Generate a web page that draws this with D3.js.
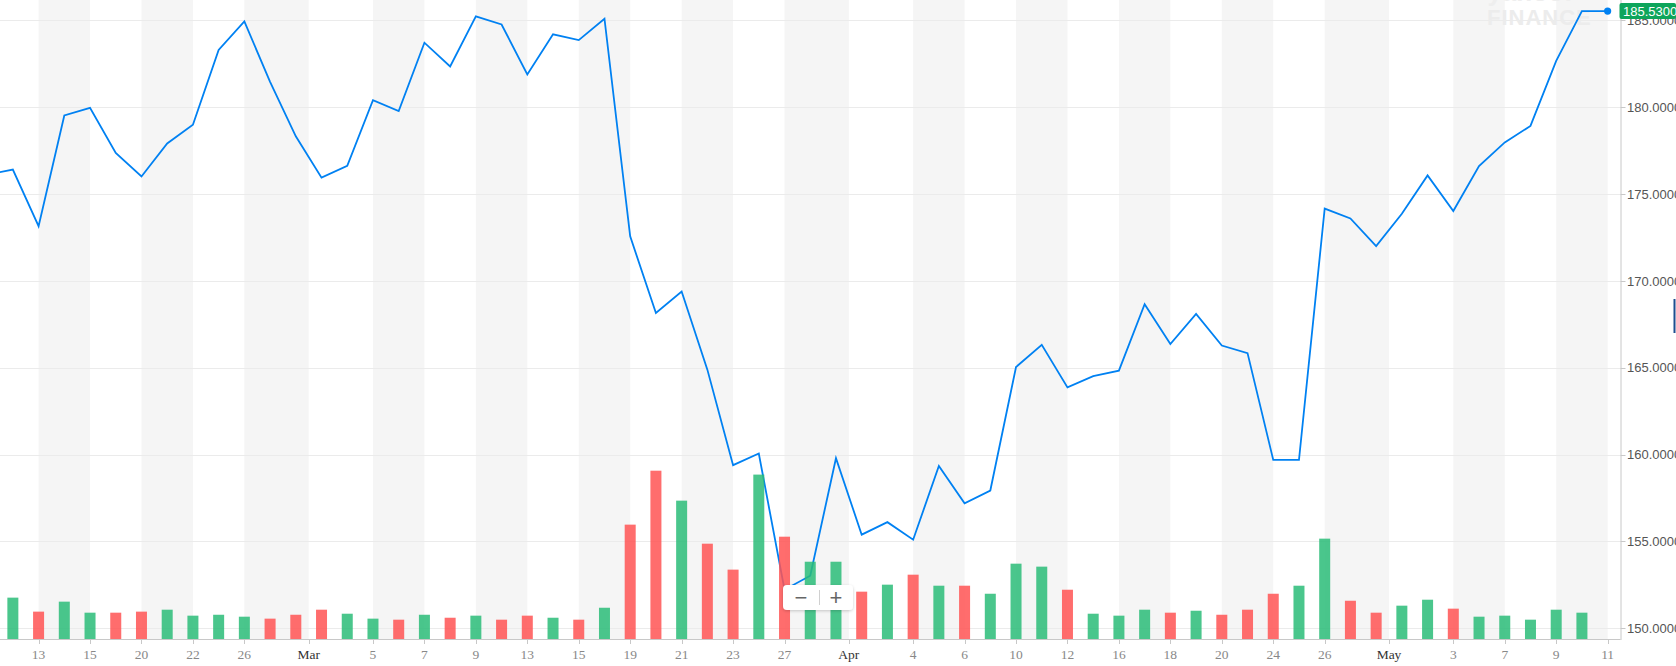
<!DOCTYPE html>
<html>
<head>
<meta charset="utf-8">
<script src="https://cdn.jsdelivr.net/npm/d3@7"></script>
<style>
  body { margin: 0; background: #fff; overflow: hidden; }
  svg { display: block; }
</style>
</head>
<body>
<div id="chart"></div>
<script>
// Données (séance du 9 fév. au 11 mai 2018)
const dates = [
  "02-09", "02-12", "02-13", "02-14", "02-15", "02-16", "02-20", "02-21", "02-22", "02-23", "02-26", "02-27", "02-28",
  "03-01", "03-02", "03-05", "03-06", "03-07", "03-08", "03-09", "03-12", "03-13", "03-14", "03-15", "03-16",
  "03-19", "03-20", "03-21", "03-22", "03-23", "03-26", "03-27", "03-28", "03-29",
  "04-02", "04-03", "04-04", "04-05", "04-06", "04-09", "04-10", "04-11", "04-12", "04-13",
  "04-16", "04-17", "04-18", "04-19", "04-20", "04-23", "04-24", "04-25", "04-26", "04-27", "04-30",
  "05-01", "05-02", "05-03", "05-04", "05-07", "05-08", "05-09", "05-10", "05-11"
];
const closes = [
  176.11, 176.41, 173.15, 179.52, 179.96, 177.36, 176.01, 177.91, 178.99, 183.29, 184.93, 181.46, 178.32,
  175.94, 176.62, 180.40, 179.78, 183.71, 182.34, 185.23, 184.76, 181.88, 184.19, 183.86, 185.09,
  172.56, 168.15, 169.39, 164.89, 159.39, 160.06, 152.22, 153.03, 159.79,
  155.39, 156.11, 155.10, 159.34, 157.20, 157.93, 165.04, 166.32, 163.87, 164.52,
  164.83, 168.66, 166.36, 168.10, 166.28, 165.84, 159.69, 159.69, 174.16, 173.59, 172.00,
  173.86, 176.07, 174.02, 176.61, 177.97, 178.92, 182.66, 185.53, 185.53
];
// volumes en millions
const volumes = [
  null, 31.9, 21.1, 28.8, 20.3, 20.3, 21.1, 22.6, 18.0, 18.7, 17.2, 15.7, 18.7,
  22.6, 19.5, 15.7, 14.9, 18.7, 16.4, 18.0, 14.9, 18.0, 16.4, 14.9, 24.1,
  88.2, 129.8, 106.7, 73.5, 53.5, 126.8, 78.9, 59.6, 59.6,
  36.5, 41.9, 49.6, 41.1, 41.1, 34.9, 58.1, 55.8, 38.0, 19.5,
  18.0, 22.6, 20.3, 21.8, 18.7, 22.6, 34.9, 41.1, 77.4, 29.5, 20.3,
  25.7, 30.3, 23.4, 17.2, 18.0, 14.9, 22.6, 20.3, null
];
const dayTicks = ["02-13", "02-15", "02-20", "02-22", "02-26", "03-05", "03-07", "03-09", "03-13", "03-15",
  "03-19", "03-21", "03-23", "03-27", "04-04", "04-06", "04-10", "04-12", "04-16", "04-18", "04-20",
  "04-24", "04-26", "05-03", "05-07", "05-09", "05-11"];
const monthLabels = ["Mar", "Apr", "May"];
const monthFirstDays = ["03-01", "04-02", "05-01"];
const priceTicks = [150, 155, 160, 165, 170, 175, 180, 185];

const W = 1676, H = 666,
    plotRight = 1620.5,
    axisY = 639,
    volHeight = 168.3,
    barWidth = 11,
    lineColor = "#0081f2",
    upColor = "#2abc78",
    downColor = "#ff5454";

const svg = d3.select("#chart").append("svg")
    .attr("width", W)
    .attr("height", H)
    .style("font-family", "'Liberation Sans', Arial, sans-serif");

const x = d3.scaleLinear()
    .domain([0.5, 63.5])
    .range([0, plotRight]);

const y = d3.scaleLinear()
    .domain([150, 185])
    .range([628.3, 20.3]);

const yVol = d3.scaleLinear()
    .domain([0, d3.max(volumes)])
    .range([axisY, axisY - volHeight]);

// ticks de l'axe des abscisses : jours + débuts de mois (entre deux séances)
let ticks = dayTicks.map(d => ({pos: dates.indexOf(d), label: String(+d.slice(3)), month: false}));
monthFirstDays.forEach((d, i) => ticks.push({pos: dates.indexOf(d) - 0.5, label: monthLabels[i], month: true}));
ticks.sort((a, b) => a.pos - b.pos);

const defs = svg.append("defs");
defs.append("clipPath").attr("id", "plot-clip")
    .append("rect").attr("x", 0).attr("y", 0).attr("width", plotRight).attr("height", axisY);
const shadow = defs.append("filter").attr("id", "shadow")
    .attr("x", "-20%").attr("y", "-30%").attr("width", "140%").attr("height", "170%");
shadow.append("feDropShadow").attr("dx", 0).attr("dy", 1).attr("stdDeviation", 1.5)
    .attr("flood-color", "#000").attr("flood-opacity", 0.2);

// bandes grises alternées
const bands = d3.range(0, ticks.length - 1, 2).map(i => [ticks[i].pos, ticks[i + 1].pos]);
svg.append("g").selectAll("rect")
    .data(bands)
    .enter().append("rect")
    .attr("x", d => x(d[0]))
    .attr("y", 0)
    .attr("width", d => x(d[1]) - x(d[0]))
    .attr("height", axisY)
    .style("fill", "#f5f5f5");

// grille horizontale
svg.append("g").selectAll("line")
    .data(priceTicks)
    .enter().append("line")
    .attr("x1", 0)
    .attr("x2", plotRight)
    .attr("y1", d => Math.round(y(d)) + 0.5)
    .attr("y2", d => Math.round(y(d)) + 0.5)
    .style("stroke", "#ebebeb")
    .style("stroke-width", 1);

// filigrane (coupé par le haut de l'image)
svg.append("text")
    .attr("x", 1530)
    .attr("y", 1)
    .attr("text-anchor", "middle")
    .style("font-size", "26px")
    .style("font-weight", "bold")
    .style("fill", "#eeeeee")
    .text("yahoo!");
svg.append("text")
    .attr("x", 1487)
    .attr("y", 24.5)
    .style("font-size", "22px")
    .style("font-weight", "bold")
    .style("letter-spacing", "1px")
    .style("fill", "#ececec")
    .text("FINANCE");

// courbe des cours
const line = d3.line()
    .x((d, i) => x(i))
    .y(d => y(d));

svg.append("path")
    .datum(closes)
    .attr("clip-path", "url(#plot-clip)")
    .attr("d", line)
    .style("fill", "none")
    .style("stroke", lineColor)
    .style("stroke-width", 1.8);

// volumes
svg.append("g").selectAll("rect")
    .data(volumes.map((v, i) => ({i: i, v: v})).filter(d => d.v !== null))
    .enter().append("rect")
    .attr("x", d => x(d.i) - barWidth / 2)
    .attr("y", d => yVol(d.v))
    .attr("width", barWidth)
    .attr("height", d => axisY - yVol(d.v))
    .style("fill", d => closes[d.i] >= closes[d.i - 1] ? upColor : downColor)
    .style("opacity", 0.85);

// axe des abscisses
const xAxis = svg.append("g");
xAxis.append("line")
    .attr("x1", 0).attr("x2", plotRight)
    .attr("y1", axisY + 0.5).attr("y2", axisY + 0.5)
    .style("stroke", "#c8c8c8");
xAxis.selectAll("line.tick")
    .data(ticks)
    .enter().append("line")
    .attr("class", "tick")
    .attr("x1", d => Math.round(x(d.pos)) + 0.5)
    .attr("x2", d => Math.round(x(d.pos)) + 0.5)
    .attr("y1", axisY)
    .attr("y2", axisY + 5)
    .style("stroke", "#c8c8c8");
xAxis.selectAll("text")
    .data(ticks)
    .enter().append("text")
    .attr("x", d => x(d.pos))
    .attr("y", 659)
    .attr("text-anchor", "middle")
    .style("font-family", "'Liberation Serif', 'Times New Roman', serif")
    .style("font-size", "13.5px")
    .style("fill", d => d.month ? "#333" : "#888")
    .text(d => d.label);

// axe des ordonnées (à droite)
const yAxis = svg.append("g");
yAxis.append("line")
    .attr("x1", plotRight + 0.5).attr("x2", plotRight + 0.5)
    .attr("y1", 0).attr("y2", axisY + 1)
    .style("stroke", "#c8c8c8");
yAxis.selectAll("line.tick")
    .data(priceTicks)
    .enter().append("line")
    .attr("class", "tick")
    .attr("x1", plotRight)
    .attr("x2", plotRight + 5)
    .attr("y1", d => Math.round(y(d)) + 0.5)
    .attr("y2", d => Math.round(y(d)) + 0.5)
    .style("stroke", "#c8c8c8");
yAxis.selectAll("text")
    .data(priceTicks)
    .enter().append("text")
    .attr("x", 1627)
    .attr("y", d => y(d))
    .attr("dy", "0.36em")
    .style("font-size", "13px")
    .style("fill", "#555")
    .text(d => d3.format(".4f")(d));

// dernier cours : point + étiquette
const last = closes.length - 1;
svg.append("circle")
    .attr("cx", x(last))
    .attr("cy", y(closes[last]))
    .attr("r", 3.6)
    .style("fill", lineColor);
svg.append("rect")
    .attr("x", plotRight - 1)
    .attr("y", y(closes[last]) - 8)
    .attr("width", W - plotRight + 1)
    .attr("height", 16)
    .attr("rx", 2)
    .style("fill", "#0ea55b");
svg.append("text")
    .attr("x", 1623)
    .attr("y", y(closes[last]))
    .attr("dy", "0.36em")
    .style("font-size", "13px")
    .style("fill", "#fff")
    .text(d3.format(".4f")(closes[last]));

// petit repère sur le bord droit
svg.append("rect")
    .attr("x", 1673.5)
    .attr("y", 299)
    .attr("width", 2)
    .attr("height", 34)
    .style("fill", "#1f4f8f");

// contrôle de zoom
const zoomCtl = svg.append("g")
    .attr("transform", "translate(783,585)");
zoomCtl.append("rect")
    .attr("width", 70)
    .attr("height", 25)
    .attr("rx", 4)
    .style("fill", "#fff")
    .attr("filter", "url(#shadow)");
zoomCtl.append("line")
    .attr("x1", 36.5).attr("x2", 36.5)
    .attr("y1", 5).attr("y2", 20)
    .style("stroke", "#d0d0d0");
zoomCtl.selectAll("text")
    .data(["\u2212", "+"])
    .enter().append("text")
    .attr("x", (d, i) => i === 0 ? 18 : 53)
    .attr("y", 12.5)
    .attr("dy", "0.35em")
    .attr("text-anchor", "middle")
    .style("font-size", "22px")
    .style("font-weight", "300")
    .style("fill", "#666")
    .text(d => d);
</script>
</body>
</html>
